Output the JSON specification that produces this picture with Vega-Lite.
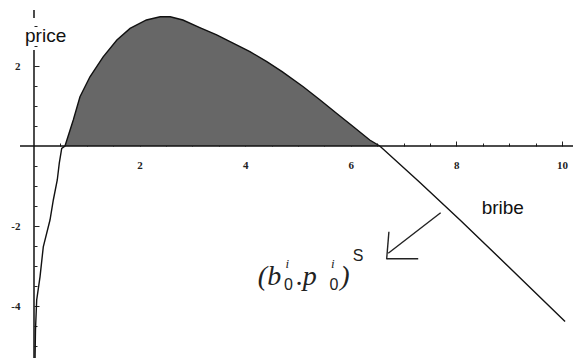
{
  "$schema": "https://vega.github.io/schema/vega-lite/v6.json",
  "width": 573,
  "height": 358,
  "padding": 0,
  "autosize": "none",
  "background": "white",
  "config": {"view": {"stroke": null}},
  "datasets": {
    "curve": [
      {"b": 0.02, "p": -5.3}, {"b": 0.028, "p": -4.6}, {"b": 0.051, "p": -3.85}, {"b": 0.114, "p": -3.27},
      {"b": 0.176, "p": -2.52}, {"b": 0.303, "p": -1.85}, {"b": 0.366, "p": -1.35}, {"b": 0.441, "p": -0.85},
      {"b": 0.479, "p": -0.43}, {"b": 0.525, "p": -0.06}, {"b": 0.587, "p": 0}, {"b": 0.744, "p": 0.65},
      {"b": 0.871, "p": 1.23}, {"b": 1.06, "p": 1.73}, {"b": 1.31, "p": 2.23}, {"b": 1.57, "p": 2.65},
      {"b": 1.82, "p": 2.94}, {"b": 2.13, "p": 3.15}, {"b": 2.39, "p": 3.23}, {"b": 2.58, "p": 3.23},
      {"b": 2.82, "p": 3.15}, {"b": 3.14, "p": 2.96}, {"b": 3.46, "p": 2.78}, {"b": 3.77, "p": 2.57},
      {"b": 4.09, "p": 2.36}, {"b": 4.41, "p": 2.11}, {"b": 4.7, "p": 1.86}, {"b": 5.1, "p": 1.48},
      {"b": 5.42, "p": 1.15}, {"b": 5.73, "p": 0.82}, {"b": 6.05, "p": 0.48}, {"b": 6.36, "p": 0.15},
      {"b": 6.55, "p": 0}, {"b": 7.3, "p": -0.9}, {"b": 8.07, "p": -1.85}, {"b": 9.0, "p": -3.03},
      {"b": 10.06, "p": -4.39}
    ],
    "axisLines": [
      {"b": -0.265, "p": 0, "b2": 10.21, "p2": 0},
      {"b": 0, "p": 3.4, "b2": 0, "p2": 3.2},
      {"b": 0, "p": 2.4, "b2": 0, "p2": -5.3}
    ],
    "arrow": [
      {"b": 7.703, "p": -1.667, "b2": 6.71, "p2": -2.683},
      {"b": 6.723, "p": -2.143, "b2": 6.68, "p2": -2.83},
      {"b": 6.68, "p": -2.82, "b2": 7.278, "p2": -2.82}
    ],
    "titles": [
      {"b": -0.17, "p": 2.61, "t": "price"},
      {"b": 8.48, "p": -1.7, "t": "bribe"}
    ],
    "annMain": [
      {"b": 4.24, "p": -3.475, "t": "("},
      {"b": 4.42, "p": -3.475, "t": "b"},
      {"b": 4.97, "p": -3.475, "t": "."},
      {"b": 5.09, "p": -3.475, "t": "p"},
      {"b": 5.80, "p": -3.475, "t": ")"}
    ],
    "annSub": [
      {"b": 4.82, "p": -3.6, "t": "0"},
      {"b": 5.68, "p": -3.6, "t": "0"}
    ],
    "annSup": [
      {"b": 4.80, "p": -3.05, "t": "i"},
      {"b": 5.66, "p": -3.05, "t": "i"}
    ],
    "annS": [
      {"b": 6.04, "p": -2.87, "t": "S"}
    ]
  },
  "encoding": {
    "x": {
      "field": "b", "type": "quantitative",
      "scale": {"domain": [-0.644, 10.21], "nice": false, "zero": false},
      "axis": {
        "orient": "bottom", "offset": -212, "domain": false, "grid": false, "title": null,
        "values": [0.5, 1, 1.5, 2, 2.5, 3, 3.5, 4, 4.5, 5, 5.5, 6, 6.5, 7, 7.5, 8, 8.5, 9, 9.5, 10],
        "labelExpr": "datum.value % 2 === 0 ? '' + datum.value : ''",
        "labelOverlap": false, "labelFlush": false,
        "labelFont": "Liberation Serif", "labelFontWeight": "bold", "labelFontSize": 11, "labelColor": "#222",
        "labelPadding": 18, "labelBaseline": "top",
        "tickColor": "#222", "tickWidth": 1,
        "tickSize": {"condition": {"test": "datum.value % 2 === 0", "value": -5}, "value": -3}
      }
    },
    "y": {
      "field": "p", "type": "quantitative",
      "scale": {"domain": [-5.3, 3.65], "nice": false, "zero": false},
      "axis": {
        "orient": "left", "offset": -34, "domain": false, "grid": false, "title": null,
        "values": [-5, -4.5, -4, -3.5, -3, -2.5, -2, -1.5, -1, -0.5, 0.5, 1, 1.5, 2, 2.5, 3],
        "labelExpr": "datum.value % 2 === 0 ? '' + datum.value : ''",
        "labelOverlap": false, "labelFlush": false,
        "labelFont": "Liberation Serif", "labelFontWeight": "bold", "labelFontSize": 11, "labelColor": "#222",
        "labelPadding": 19,
        "tickColor": "#222", "tickWidth": 1,
        "tickSize": {"condition": {"test": "datum.value % 2 === 0", "value": -5}, "value": -3}
      }
    }
  },
  "layer": [
    {
      "data": {"name": "curve"},
      "transform": [{"filter": "datum.p >= 0"}],
      "mark": {"type": "area", "color": "#676767", "opacity": 1},
      "encoding": {"y2": {"datum": 0}}
    },
    {
      "data": {"name": "curve"},
      "mark": {"type": "line", "color": "#111", "strokeWidth": 1.4},
      "encoding": {}
    },
    {
      "data": {"name": "axisLines"},
      "mark": {"type": "rule", "color": "#111", "strokeWidth": 1.5},
      "encoding": {"x2": {"field": "b2"}, "y2": {"field": "p2"}}
    },
    {
      "data": {"name": "arrow"},
      "mark": {"type": "rule", "color": "#222", "strokeWidth": 1.4},
      "encoding": {"x2": {"field": "b2"}, "y2": {"field": "p2"}}
    },
    {
      "data": {"name": "titles"},
      "mark": {"type": "text", "font": "Liberation Sans", "fontSize": 19, "align": "left", "baseline": "alphabetic", "color": "#111"},
      "encoding": {"text": {"field": "t"}}
    },
    {
      "data": {"name": "annMain"},
      "mark": {"type": "text", "font": "Liberation Serif", "fontStyle": "italic", "fontSize": 28, "align": "left", "baseline": "alphabetic", "color": "#222"},
      "encoding": {"text": {"field": "t"}}
    },
    {
      "data": {"name": "annSub"},
      "mark": {"type": "text", "font": "Liberation Sans", "fontSize": 16, "align": "center", "baseline": "alphabetic", "color": "#222"},
      "encoding": {"text": {"field": "t"}}
    },
    {
      "data": {"name": "annSup"},
      "mark": {"type": "text", "font": "Liberation Serif", "fontStyle": "italic", "fontSize": 13, "align": "center", "baseline": "alphabetic", "color": "#222"},
      "encoding": {"text": {"field": "t"}}
    },
    {
      "data": {"name": "annS"},
      "mark": {"type": "text", "font": "Liberation Sans", "fontSize": 16, "align": "left", "baseline": "alphabetic", "color": "#222"},
      "encoding": {"text": {"field": "t"}}
    }
  ]
}
